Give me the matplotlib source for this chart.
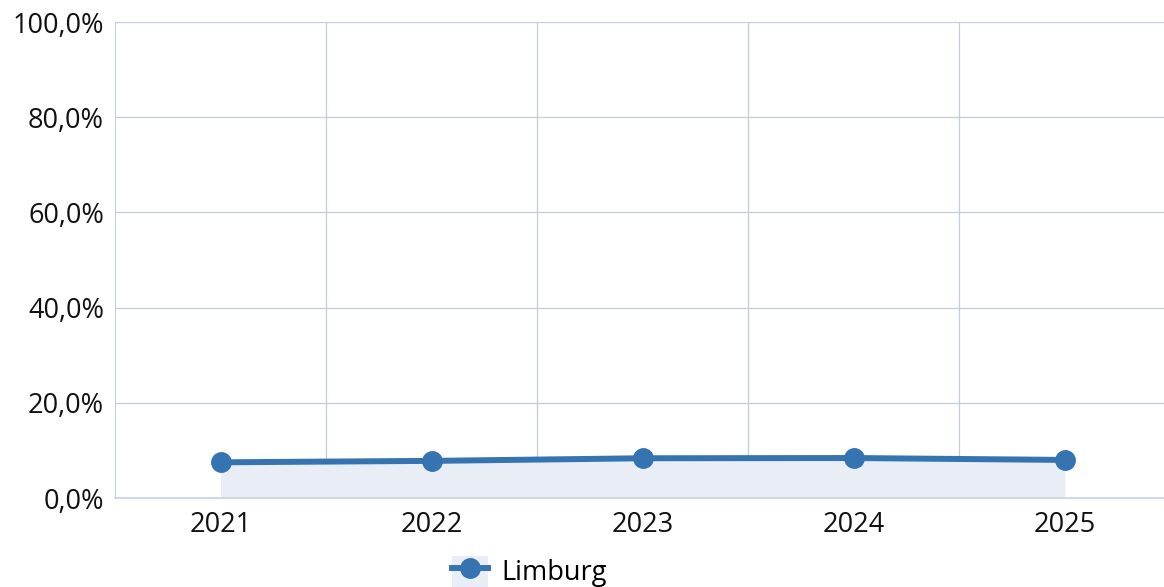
import matplotlib
matplotlib.use('Agg')
import matplotlib.pyplot as plt
from matplotlib.patches import Patch
from matplotlib.lines import Line2D
from matplotlib.ticker import FuncFormatter, MultipleLocator, FixedLocator

plt.rcParams['font.family'] = ['Open Sans', 'DejaVu Sans']

# data
years = ['2021', '2022', '2023', '2024', '2025']
limburg = [7.5, 7.8, 8.35, 8.4, 8.0]

line_color = '#3573b1'
fill_color = '#e9eef6'
grid_color = '#c3ccd8'

fig = plt.figure(figsize=(11.64, 5.87), dpi=100)
ax = fig.add_axes([0.0988, 0.1516, 0.9012, 0.8109])

x = list(range(len(years)))
ax.fill_between(x, 0, limburg, color=fill_color, zorder=1, linewidth=0)
ax.plot(x, limburg, color=line_color, linewidth=4.3, marker='o',
        markersize=14, zorder=3, solid_capstyle='round')

ax.set_xlim(-0.5, 4.47)
ax.set_ylim(0, 100)
ax.yaxis.set_major_locator(MultipleLocator(20))
ax.yaxis.set_major_formatter(FuncFormatter(lambda v, p: f'{v:.1f}%'.replace('.', ',')))
ax.set_xticks(x)
ax.set_xticklabels(years)
ax.xaxis.set_minor_locator(FixedLocator([0.5, 1.5, 2.5, 3.5]))

ax.grid(axis='y', which='major', color=grid_color, linewidth=0.9, zorder=0)
ax.grid(axis='x', which='minor', color=grid_color, linewidth=0.9, zorder=2)
ax.set_axisbelow(True)

for s in ['top', 'right']:
    ax.spines[s].set_visible(False)
ax.spines['left'].set_color(grid_color)
ax.spines['bottom'].set_color('#c8d2e0')
ax.spines['bottom'].set_linewidth(1.2)

ax.tick_params(axis='both', which='both', length=0, labelsize=19.5, colors='#111111')
ax.tick_params(axis='x', pad=9)
ax.tick_params(axis='y', pad=8)

handle = (Patch(facecolor=fill_color, edgecolor='none'),
          Line2D([], [], color=line_color, linewidth=4.3, marker='o', markersize=14))
ax.legend([handle], ['Limburg'], loc='center', bbox_to_anchor=(0.395, -0.155),
          frameon=False, fontsize=19.5, handlelength=1.35, handleheight=1.35,
          handletextpad=0.5, borderpad=0)

plt.savefig('out.png', dpi=100)
